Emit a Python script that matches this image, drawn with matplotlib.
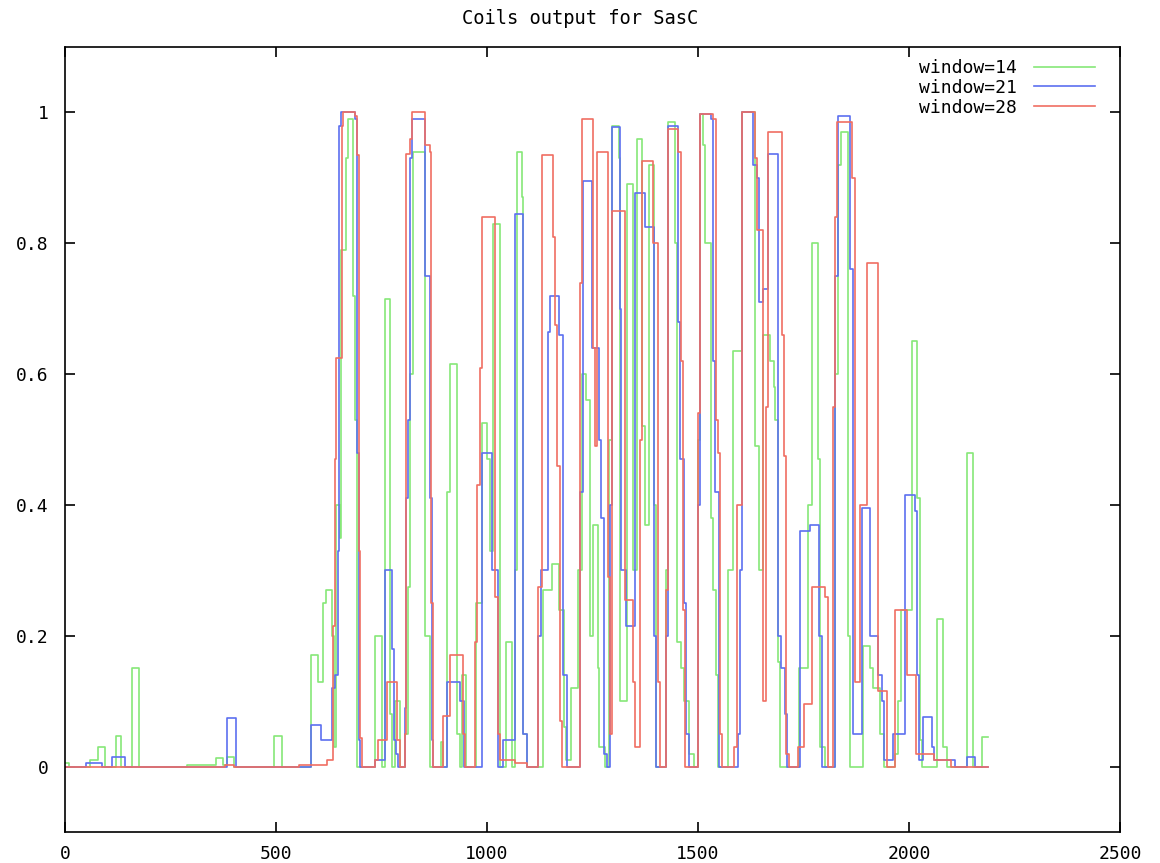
import matplotlib
matplotlib.use("Agg")
import matplotlib.pyplot as plt

# step data: x where each step starts, value of the step
x_end = 2187

w14_x = [0, 10, 60, 78, 95, 121, 133, 159, 175, 290, 358, 375, 384, 400, 496, 515,
         583, 600, 612, 618, 633, 637, 642, 651, 655, 665, 671, 683, 688, 693,
         735, 751, 758, 770, 776, 782, 794, 806, 812, 818, 824, 852, 866,
         890, 896, 905, 912, 929, 935, 940, 950, 975, 988, 1000, 1007, 1014, 1031,
         1045, 1060, 1066, 1071, 1083, 1086, 1095, 1133, 1154, 1170, 1182, 1187,
         1200, 1215, 1225, 1235, 1243, 1250, 1262, 1265, 1280, 1290, 1296, 1313,
         1316, 1332, 1346, 1355, 1367, 1374, 1384, 1396, 1400, 1425, 1429, 1445,
         1450, 1460, 1466, 1478, 1490, 1500, 1505, 1512, 1517, 1530, 1536, 1542,
         1548, 1570, 1583, 1604, 1635, 1645, 1654, 1671, 1680, 1683, 1690, 1695,
         1740, 1760, 1770, 1785, 1790, 1800, 1825, 1832, 1838, 1855, 1860, 1890,
         1907, 1915, 1931, 1940, 1967, 1973, 1980, 2007, 2019, 2027, 2030, 2066,
         2081, 2090, 2137, 2152, 2173]
w14_y = [0.005, 0.0, 0.01, 0.03, 0.0, 0.047, 0.0, 0.15, 0.0, 0.003, 0.013, 0.003, 0.015, 0.0, 0.047, 0.0,
         0.17, 0.13, 0.25, 0.27, 0.2, 0.03, 0.40, 0.35, 0.79, 0.93, 0.99, 0.72, 0.53, 0.0,
         0.2, 0.0, 0.715, 0.08, 0.0, 0.1, 0.0, 0.05, 0.275, 0.6, 0.94, 0.2, 0.0,
         0.037, 0.0, 0.42, 0.615, 0.05, 0.0, 0.14, 0.0, 0.25, 0.525, 0.47, 0.33, 0.83, 0.0,
         0.19, 0.0, 0.3, 0.94, 0.87, 0.05, 0.0, 0.27, 0.31, 0.24, 0.06, 0.01,
         0.12, 0.3, 0.60, 0.56, 0.2, 0.37, 0.15, 0.03, 0.0, 0.5, 0.98, 0.93,
         0.1, 0.89, 0.3, 0.96, 0.52, 0.37, 0.92, 0.4, 0.0, 0.3, 0.985, 0.8,
         0.19, 0.15, 0.1, 0.02, 0.0, 0.5, 0.997, 0.95, 0.8, 0.38, 0.27, 0.14,
         0.0, 0.3, 0.635, 1.0, 0.49, 0.3, 0.66, 0.62, 0.58, 0.53, 0.16, 0.0,
         0.15, 0.4, 0.80, 0.47, 0.03, 0.0, 0.6, 0.92, 0.97, 0.2, 0.0, 0.185,
         0.15, 0.12, 0.05, 0.0, 0.02, 0.1, 0.24, 0.65, 0.41, 0.04, 0.0, 0.225,
         0.03, 0.0, 0.48, 0.0, 0.045]

w21_x = [0, 50, 88, 112, 142, 384, 405, 583, 607, 633, 640, 646, 650, 655, 687, 692, 697, 700,
         735, 758, 774, 780, 785, 790, 805, 808, 812, 818, 822, 852, 865, 869, 873,
         905, 935, 945, 988, 1012, 1026, 1038, 1066, 1085, 1095, 1121, 1128, 1145,
         1150, 1170, 1180, 1190, 1220, 1228, 1249, 1265, 1270, 1278, 1285, 1292,
         1296, 1315, 1318, 1330, 1350, 1374, 1396, 1400, 1425, 1429, 1453, 1458,
         1466, 1472, 1478, 1500, 1505, 1530, 1536, 1540, 1550, 1595, 1600, 1604,
         1630, 1640, 1645, 1655, 1666, 1690, 1697, 1705, 1712, 1742, 1766, 1787,
         1793, 1825, 1832, 1860, 1867, 1889, 1907, 1927, 1935, 1940, 1962, 1990,
         2014, 2018, 2023, 2033, 2055, 2060, 2110, 2137, 2157]
w21_y = [0.0, 0.005, 0.0, 0.014, 0.0, 0.075, 0.0, 0.064, 0.04, 0.12, 0.14, 0.33, 0.98, 1.0, 0.99, 0.48, 0.04, 0.0,
         0.01, 0.30, 0.18, 0.04, 0.02, 0.0, 0.09, 0.41, 0.53, 0.93, 0.99, 0.75, 0.41, 0.04, 0.0,
         0.13, 0.1, 0.0, 0.48, 0.30, 0.0, 0.04, 0.845, 0.05, 0.0, 0.2, 0.30, 0.665,
         0.72, 0.66, 0.14, 0.0, 0.42, 0.895, 0.64, 0.5, 0.38, 0.02, 0.0, 0.4,
         0.977, 0.7, 0.3, 0.215, 0.877, 0.825, 0.2, 0.0, 0.2, 0.98, 0.68, 0.47,
         0.25, 0.05, 0.0, 0.4, 0.997, 0.99, 0.62, 0.42, 0.0, 0.05, 0.3, 1.0,
         0.92, 0.9, 0.71, 0.73, 0.937, 0.2, 0.15, 0.08, 0.0, 0.36, 0.37, 0.2,
         0.0, 0.75, 0.995, 0.76, 0.05, 0.395, 0.2, 0.14, 0.1, 0.01, 0.05, 0.415,
         0.39, 0.14, 0.01, 0.076, 0.03, 0.01, 0.0, 0.015, 0.0]

w28_x = [0, 380, 400, 555, 620, 635, 639, 642, 656, 659, 687, 692, 697, 700, 703,
         735, 742, 763, 786, 795, 805, 808, 818, 822, 852, 865, 868, 872,
         895, 912, 943, 948, 971, 976, 983, 988, 1019, 1025, 1030, 1066, 1095,
         1121, 1130, 1156, 1160, 1165, 1172, 1177, 1220, 1225, 1251, 1255, 1260,
         1287, 1292, 1296, 1327, 1345, 1350, 1362, 1367, 1393, 1405, 1410, 1425,
         1429, 1453, 1460, 1465, 1470, 1500, 1505, 1536, 1543, 1548, 1553, 1558,
         1585, 1592, 1604, 1635, 1640, 1655, 1660, 1666, 1699, 1703, 1708, 1715,
         1737, 1752, 1770, 1800, 1807, 1820, 1825, 1829, 1865, 1872, 1885, 1900,
         1926, 1947, 1967, 1995, 2017, 2060, 2100]
w28_y = [0.0, 0.002, 0.0, 0.003, 0.01, 0.215, 0.47, 0.625, 0.98, 1.0, 0.995, 0.935, 0.33, 0.043, 0.0,
         0.01, 0.04, 0.13, 0.04, 0.0, 0.05, 0.937, 0.96, 1.0, 0.95, 0.94, 0.25, 0.0,
         0.077, 0.17, 0.05, 0.0, 0.19, 0.43, 0.61, 0.84, 0.26, 0.05, 0.01, 0.005, 0.0,
         0.275, 0.935, 0.81, 0.675, 0.46, 0.07, 0.0, 0.74, 0.99, 0.64, 0.49, 0.94,
         0.29, 0.05, 0.85, 0.255, 0.13, 0.03, 0.5, 0.925, 0.8, 0.13, 0.0, 0.27,
         0.974, 0.94, 0.62, 0.24, 0.0, 0.54, 0.997, 0.99, 0.53, 0.48, 0.05, 0.0,
         0.03, 0.4, 1.0, 0.93, 0.82, 0.1, 0.55, 0.97, 0.66, 0.475, 0.02, 0.0,
         0.03, 0.095, 0.275, 0.26, 0.0, 0.55, 0.84, 0.985, 0.9, 0.13, 0.40, 0.77,
         0.115, 0.0, 0.24, 0.14, 0.02, 0.01, 0.0]

series = [
    ("window=14", w14_x, w14_y, "#86e878"),
    ("window=21", w21_x, w21_y, "#5c70f0"),
    ("window=28", w28_x, w28_y, "#f06e62"),
]

mono = "DejaVu Sans Mono"
fs = 13

fig = plt.figure(figsize=(11.6, 8.63), dpi=100)
ax = fig.add_axes([65 / 1160, 31 / 863, 1055 / 1160, 785 / 863])

for label, xs, ys, col in series:
    ax.step(xs + [x_end], ys + [ys[-1]], where="post", color=col, lw=1.2, label=label)

ax.set_xlim(0, 2500)
ax.set_ylim(-0.1, 1.1)
ax.set_xticks([0, 500, 1000, 1500, 2000, 2500])
ax.set_yticks([0, 0.2, 0.4, 0.6, 0.8, 1])
ax.set_yticklabels(["0", "0.2", "0.4", "0.6", "0.8", "1"])

ax.tick_params(direction="in", length=7, width=1.2, top=True, right=True,
               labelsize=fs, colors="black")
ax.tick_params(axis="x", pad=9)
ax.tick_params(axis="y", pad=12)
for lab in ax.get_xticklabels() + ax.get_yticklabels():
    lab.set_family(mono)
for sp in ax.spines.values():
    sp.set_linewidth(1.2)

fig.text(0.5, 1 - 18 / 863, "Coils output for SasC", ha="center", va="center",
         family=mono, fontsize=13.5)

ax.legend(loc="upper right", bbox_to_anchor=(1 - 25 / 1055, 1 - 12 / 785),
          borderaxespad=0, borderpad=0, frameon=False, markerfirst=False,
          handlelength=3.4, handletextpad=0.9, labelspacing=0.1,
          prop={"family": mono, "size": fs})

fig.savefig("out.png", dpi=100)
